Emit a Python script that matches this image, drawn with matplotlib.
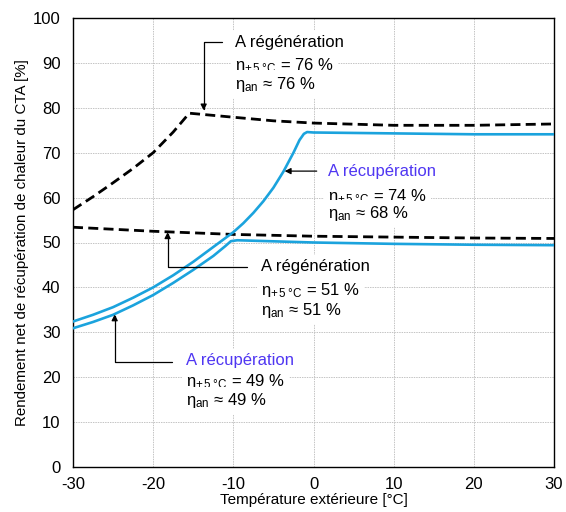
import matplotlib
matplotlib.use('Agg')
import matplotlib.pyplot as plt

plt.rcParams['font.family'] = ['Liberation Sans', 'DejaVu Sans']
plt.rcParams['mathtext.fontset'] = 'custom'
plt.rcParams['mathtext.rm'] = 'Liberation Sans'
plt.rcParams['mathtext.it'] = 'Liberation Sans:italic'
plt.rcParams['mathtext.bf'] = 'Liberation Sans:bold'
plt.rcParams['axes.unicode_minus'] = False

# ---- data ----
regen76_x = [-30, -27.5, -25, -22.5, -20, -17.5, -15.5, -10, -5, 0, 10, 20, 30]
regen76_y = [57.3, 60.2, 63.3, 66.5, 70.0, 74.6, 78.8, 77.9, 77.1, 76.6, 76.1, 76.1, 76.4]

regen51_x = [-30, -20, -10, 0, 10, 20, 30]
regen51_y = [53.4, 52.5, 51.8, 51.4, 51.2, 51.0, 50.9]

recup74_x = [-30, -27.5, -25, -22.5, -20, -17.5, -15, -12.5, -10, -8.75, -7.5, -6.25,
             -5, -3.75, -2.5, -1.75, -1.2, -0.8, 0, 10, 20, 30]
recup74_y = [32.4, 33.9, 35.6, 37.7, 40.0, 42.7, 45.7, 49.0, 52.3, 54.3, 56.6, 59.2,
             62.2, 65.8, 70.0, 72.8, 74.2, 74.6, 74.5, 74.3, 74.1, 74.1]

recup49_x = [-30, -27.5, -25, -22.5, -20, -17.5, -15, -12.5, -11, -10.3, -9.5, 0, 10, 20, 30]
recup49_y = [30.9, 32.3, 33.9, 36.0, 38.3, 41.0, 43.9, 47.0, 49.2, 50.3, 50.5, 50.0, 49.7, 49.5, 49.4]

x_ticks = [-30, -20, -10, 0, 10, 20, 30]
y_ticks = [0, 10, 20, 30, 40, 50, 60, 70, 80, 90, 100]
x_label = "Température extérieure [°C]"
y_label = "Rendement net de récupération de chaleur du CTA [%]"

BLUE = '#1ba3dd'
VIOLET = '#4f36f2'

fig = plt.figure(figsize=(5.66, 5.12), dpi=100)
ax = fig.add_axes([73 / 566, 1 - 467 / 512, (554 - 73) / 566, (467 - 18) / 512])

ax.set_xlim(-30, 30)
ax.set_ylim(0, 100)
ax.set_xticks(x_ticks)
ax.set_yticks(y_ticks)
ax.tick_params(length=0, labelsize=12)
ax.tick_params(axis='y', pad=9)
ax.tick_params(axis='x', pad=7)
ax.grid(True, color='#c4c4c4', lw=0.7, linestyle=(0, (1.5, 1)), zorder=0)
ax.set_axisbelow(True)
for s in ax.spines.values():
    s.set_linewidth(1.0)
    s.set_color('black')

ax.set_xlabel(x_label, fontsize=11, labelpad=1)
ax.set_ylabel(y_label, fontsize=10.9, labelpad=3)

dash = (0, (3.6, 1.9))
ax.plot(regen76_x, regen76_y, color='black', lw=2.0, linestyle=dash, zorder=3)
ax.plot(regen51_x, regen51_y, color='black', lw=2.0, linestyle=dash, zorder=3)
ax.plot(recup74_x, recup74_y, color=BLUE, lw=1.9, zorder=4, solid_joinstyle='round')
ax.plot(recup49_x, recup49_y, color=BLUE, lw=1.9, zorder=4, solid_joinstyle='round')

box = dict(boxstyle='square,pad=0.25', facecolor='white', edgecolor='none')


def label_group(x, ys, title, v1, v2, color):
    ax.text(x, ys[0], title, fontsize=12, color=color, va='center', ha='left',
            bbox=box, zorder=5)
    ax.text(x, ys[1], r'$\mathregular{η_{+\,5\;°C}}$ = ' + v1 + ' %', fontsize=12,
            va='center', ha='left', bbox=box, zorder=5)
    ax.text(x, ys[2], r'$\mathregular{η_{an}}$ ≈ ' + v2 + ' %', fontsize=12,
            va='center', ha='left', bbox=box, zorder=5)


def connector(start, tip, style):
    ax.annotate('', xy=tip, xytext=start, zorder=6,
                arrowprops=dict(arrowstyle='-|>', color='black', lw=0.9,
                                shrinkA=0, shrinkB=0, mutation_scale=9,
                                connectionstyle=style))


label_group(-9.8, [94.6, 89.5, 85.3], 'A régénération', '76', '76', 'black')
label_group(1.8, [65.8, 60.3, 56.4], 'A récupération', '74', '68', VIOLET)
label_group(-6.5, [44.6, 39.4, 34.8], 'A régénération', '51', '51', 'black')
label_group(-15.9, [23.7, 19.0, 14.8], 'A récupération', '49', '49', VIOLET)

connector((-11.4, 94.7), (-13.7, 79.4), 'angle,angleA=0,angleB=90,rad=0')
connector((0.4, 65.9), (-3.6, 65.9), 'arc3')
connector((-8.3, 44.6), (-18.2, 52.3), 'angle,angleA=0,angleB=90,rad=0')
connector((-17.6, 23.3), (-24.8, 34.0), 'angle,angleA=0,angleB=90,rad=0')

fig.savefig('out.png', dpi=100, facecolor='white')
